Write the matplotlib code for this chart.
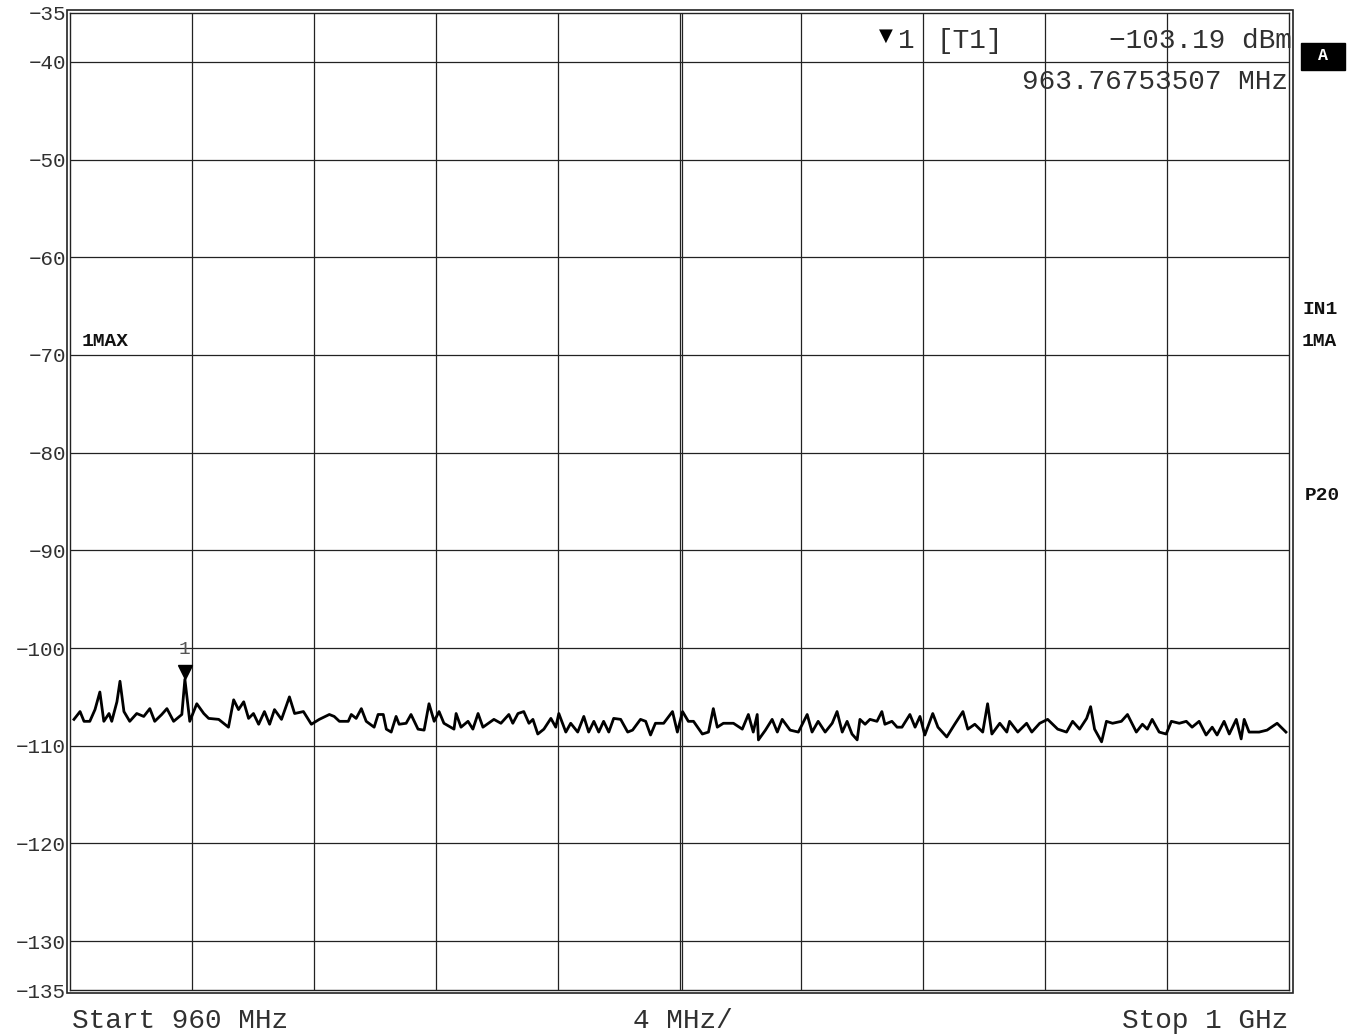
import matplotlib
matplotlib.use('Agg')
import matplotlib.pyplot as plt
from matplotlib.patches import Rectangle

freq_mhz = [
    960.13, 960.33, 960.46, 960.65, 960.82, 960.98, 961.11, 961.28, 961.37, 961.54,
    961.64, 961.77, 961.96, 962.19, 962.42, 962.62, 962.78, 963.01, 963.18, 963.40,
    963.67, 963.77, 963.93, 964.16, 964.39, 964.55, 964.88, 965.20, 965.37, 965.53,
    965.70, 965.86, 966.02, 966.19, 966.38, 966.55, 966.71, 966.94, 967.20, 967.37,
    967.66, 967.92, 968.18, 968.51, 968.67, 968.84, 969.13, 969.23, 969.39, 969.56,
    969.72, 969.98, 970.11, 970.28, 970.38, 970.54, 970.70, 970.80, 971.03, 971.19,
    971.42, 971.62, 971.78, 971.95, 972.11, 972.27, 972.60, 972.67, 972.83, 973.06,
    973.22, 973.39, 973.55, 973.91, 974.14, 974.40, 974.53, 974.70, 974.89, 975.06,
    975.19, 975.35, 975.55, 975.78, 975.94, 976.04, 976.27, 976.43, 976.66, 976.86,
    977.02, 977.19, 977.35, 977.51, 977.68, 977.84, 978.07, 978.30, 978.46, 978.72,
    978.89, 979.05, 979.21, 979.48, 979.77, 979.93, 980.10, 980.29, 980.46, 980.75,
    980.95, 981.11, 981.24, 981.44, 981.77, 982.06, 982.26, 982.42, 982.55, 982.59,
    982.82, 983.04, 983.21, 983.37, 983.63, 983.90, 984.19, 984.35, 984.55, 984.78,
    985.01, 985.17, 985.34, 985.50, 985.66, 985.83, 985.92, 986.09, 986.25, 986.48,
    986.64, 986.74, 986.97, 987.14, 987.30, 987.56, 987.73, 987.89, 988.05, 988.31,
    988.48, 988.77, 989.03, 989.30, 989.46, 989.69, 989.95, 990.11, 990.25, 990.51,
    990.74, 990.83, 991.10, 991.39, 991.56, 991.82, 992.08, 992.41, 992.70, 992.90,
    993.13, 993.36, 993.49, 993.62, 993.85, 994.01, 994.21, 994.50, 994.70, 994.99,
    995.19, 995.35, 995.51, 995.74, 995.97, 996.14, 996.40, 996.63, 996.82, 997.05,
    997.28, 997.48, 997.64, 997.87, 998.04, 998.27, 998.43, 998.53, 998.69, 999.02,
    999.28, 999.61, 999.90,
]
nivel_dbm = [
    -107.3, -106.5, -107.5, -107.5, -106.3, -104.5, -107.5, -106.7, -107.5, -105.5,
    -103.4, -106.5, -107.5, -106.7, -107.0, -106.2, -107.5, -106.8, -106.2, -107.5,
    -106.8, -103.19, -107.5, -105.7, -106.7, -107.2, -107.3, -108.1, -105.3, -106.3,
    -105.5, -107.2, -106.7, -107.8, -106.5, -107.8, -106.3, -107.3, -105.0, -106.7,
    -106.5, -107.8, -107.3, -106.8, -107.0, -107.5, -107.5, -106.8, -107.2, -106.2,
    -107.5, -108.1, -106.8, -106.8, -108.3, -108.6, -107.0, -107.8, -107.7, -106.8,
    -108.3, -108.4, -105.7, -107.5, -106.5, -107.7, -108.3, -106.7, -108.1, -107.5,
    -108.3, -106.7, -108.1, -107.3, -107.7, -106.8, -107.7, -106.7, -106.5, -107.7,
    -107.3, -108.8, -108.3, -107.2, -108.1, -106.7, -108.6, -107.7, -108.6, -107.0,
    -108.6, -107.5, -108.6, -107.5, -108.6, -107.2, -107.3, -108.6, -108.4, -107.3,
    -107.5, -108.9, -107.7, -107.7, -106.5, -108.6, -106.5, -107.5, -107.5, -108.8,
    -108.6, -106.2, -108.1, -107.7, -107.7, -108.3, -106.8, -108.6, -106.8, -109.4,
    -108.4, -107.3, -108.6, -107.3, -108.4, -108.6, -106.8, -108.6, -107.5, -108.6,
    -107.7, -106.5, -108.6, -107.5, -108.8, -109.4, -107.3, -107.8, -107.3, -107.5,
    -106.5, -107.8, -107.5, -108.1, -108.1, -106.8, -108.1, -107.0, -108.9, -106.7,
    -108.1, -109.1, -107.8, -106.5, -108.3, -107.8, -108.6, -105.7, -108.8, -107.7,
    -108.6, -107.5, -108.6, -107.7, -108.6, -107.7, -107.3, -108.3, -108.6, -107.5,
    -108.3, -107.2, -106.0, -108.3, -109.6, -107.5, -107.7, -107.5, -106.8, -108.6,
    -107.8, -108.3, -107.3, -108.6, -108.8, -107.5, -107.7, -107.5, -108.1, -107.5,
    -108.9, -108.1, -108.9, -107.5, -108.8, -107.3, -109.3, -107.3, -108.6, -108.6,
    -108.4, -107.7, -108.6,
]

freq_inicio = 960
freq_fim = 1000
ref_topo = -35
ref_base = -135
linhas_y = [-40, -50, -60, -70, -80, -90, -100, -110, -120, -130]
linhas_x = [964, 968, 972, 976, 980, 984, 988, 992, 996]
rotulos_y = [-35, -40, -50, -60, -70, -80, -90, -100, -110, -120, -130, -135]

marcador_freq = 963.76753507
marcador_nivel = -103.19

W, H = 1356, 1036
fonte = ['Liberation Mono', 'DejaVu Sans Mono']
cor_txt = '#303030'


def px(x, y):
    # converte pixel da tela para coordenada da figura
    return x / W, 1 - y / H


fig = plt.figure(figsize=(W / 100, H / 100), dpi=100)
fig.patch.set_facecolor('white')

ax = fig.add_axes([70 / W, 1 - 990 / H, (1289 - 70) / W, (990 - 13) / H])
ax.set_xlim(freq_inicio, freq_fim)
ax.set_ylim(ref_base, ref_topo)

# grade
for yv in linhas_y:
    ax.axhline(yv, color='#222222', lw=0.9, zorder=1)
for xv in linhas_x:
    ax.axvline(xv, color='#222222', lw=0.9, zorder=1)
# linha central dupla
ax.axvline(980 + 0.08, color='#222222', lw=0.9, zorder=1)

for s in ax.spines.values():
    s.set_linewidth(1.0)
    s.set_color('#222222')

ax.set_xticks([])
ax.set_yticks(rotulos_y)
ax.set_yticklabels([str(v).replace('-', '\u2212') for v in rotulos_y],
                   family=fonte, fontsize=15, color=cor_txt)
ax.tick_params(axis='y', length=0, pad=3)

# traco
ax.plot(freq_mhz, nivel_dbm, color='black', lw=2.0, zorder=3)

# marcador 1
ax.plot([marcador_freq], [marcador_nivel + 0.75], marker='v', markersize=10,
        color='black', zorder=4, clip_on=False)
ax.text(marcador_freq, marcador_nivel + 2.2, '1', family=fonte, fontsize=14,
        color='#555555', ha='center', va='bottom', zorder=4)

# moldura externa dupla
fig.patches.append(Rectangle(px(67, 993), (1293 - 67) / W, (993 - 10) / H,
                             transform=fig.transFigure, fill=False,
                             ec='#222222', lw=1.2))

# textos do marcador
fig.text(*px(886, 36), '\u25bc', family=['DejaVu Sans'], fontsize=13,
         ha='center', va='center', color='black')
fig.text(*px(906, 41), '1', family=fonte, fontsize=20, ha='center', va='center', color=cor_txt)
fig.text(*px(937, 41), '[T1]', family=fonte, fontsize=20, ha='left', va='center', color=cor_txt)
fig.text(*px(1292, 41), ('%.2f dBm' % marcador_nivel).replace('-', '\u2212'), family=fonte,
         fontsize=20, ha='right', va='center', color=cor_txt)
fig.text(*px(1288, 82), '%.8f MHz' % marcador_freq, family=fonte, fontsize=20,
         ha='right', va='center', color=cor_txt)

# caixa "A"
fig.patches.append(Rectangle(px(1301, 70), 44 / W, 27 / H, transform=fig.transFigure,
                             fc='black', ec='black'))
fig.text(*px(1323, 56), 'A', family=fonte, fontsize=12, weight='bold',
         ha='center', va='center', color='white')

# rotulos laterais
fig.text(*px(82, 341), '1MAX', family=fonte, fontsize=14, weight='bold', ha='left', va='center', color='#111111')
fig.text(*px(1302, 309), 'IN1', family=fonte, fontsize=14, weight='bold', ha='left', va='center', color='#111111')
fig.text(*px(1302, 341), '1MA', family=fonte, fontsize=14, weight='bold', ha='left', va='center', color='#111111')
fig.text(*px(1305, 495), 'P20', family=fonte, fontsize=14, weight='bold', ha='left', va='center', color='#111111')

# rodape
fig.text(*px(72, 1021), 'Start 960 MHz', family=fonte, fontsize=20, ha='left', va='center', color=cor_txt)
fig.text(*px(633, 1021), '4 MHz/', family=fonte, fontsize=20, ha='left', va='center', color=cor_txt)
fig.text(*px(1288, 1021), 'Stop 1 GHz', family=fonte, fontsize=20, ha='right', va='center', color=cor_txt)

fig.savefig('out.png', dpi=100)
